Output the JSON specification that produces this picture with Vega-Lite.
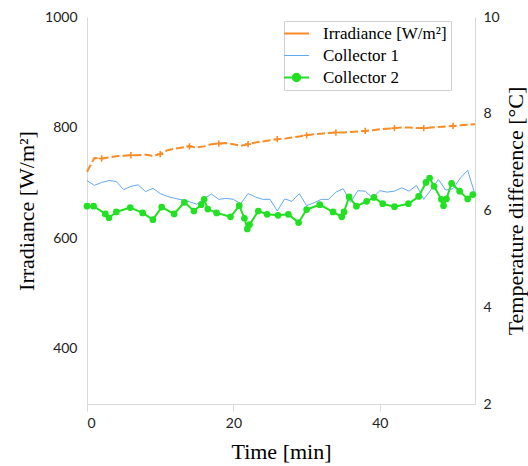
{
  "$schema": "https://vega.github.io/schema/vega-lite/v6.json",
  "width": 388,
  "height": 387,
  "autosize": "none",
  "padding": {"left": 87, "top": 17, "right": 53, "bottom": 62},
  "background": "white",
  "config": {
    "view": {"stroke": null},
    "axis": {
      "grid": false,
      "domainColor": "#d9d9d9",
      "tickColor": "#d9d9d9",
      "labelFont": "Lato",
      "labelFontSize": 14,
      "labelColor": "#222222",
      "titleFont": "Liberation Serif",
      "titleFontSize": 22,
      "titleFontWeight": "normal",
      "titleColor": "#000000"
    }
  },
  "datasets": {
    "irr": [
      {"t":0,"v":720},{"t":1,"v":745},{"t":2,"v":744},{"t":3,"v":746},{"t":4,"v":748},{"t":5,"v":749},
      {"t":6,"v":750},{"t":7,"v":750},{"t":8,"v":751},{"t":9,"v":749},{"t":10,"v":752},{"t":11,"v":759},
      {"t":12,"v":762},{"t":13,"v":764},{"t":14,"v":766},{"t":15,"v":764},{"t":16,"v":766},{"t":17,"v":770},
      {"t":18,"v":771},{"t":19,"v":772},{"t":20,"v":770},{"t":21,"v":767},{"t":22,"v":770},{"t":23,"v":773},
      {"t":24,"v":775},{"t":25,"v":777},{"t":26,"v":779},{"t":27,"v":780},{"t":28,"v":782},{"t":29,"v":784},
      {"t":30,"v":786},{"t":31,"v":788},{"t":32,"v":789},{"t":33,"v":790},{"t":34,"v":791},{"t":35,"v":791},
      {"t":36,"v":792},{"t":37,"v":793},{"t":38,"v":794},{"t":39,"v":795},{"t":40,"v":797},{"t":41,"v":798},
      {"t":42,"v":799},{"t":43,"v":800},{"t":44,"v":800},{"t":45,"v":799},{"t":46,"v":799},{"t":47,"v":800},
      {"t":48,"v":801},{"t":49,"v":802},{"t":50,"v":803},{"t":51,"v":804},{"t":52,"v":805},{"t":53,"v":806}
    ],
    "c1": [
      {"t":0,"v":6.62},{"t":1,"v":6.52},{"t":2,"v":6.58},{"t":3,"v":6.62},{"t":4,"v":6.6},{"t":5,"v":6.43},
      {"t":6,"v":6.5},{"t":7,"v":6.53},{"t":8,"v":6.39},{"t":9,"v":6.46},{"t":10,"v":6.35},{"t":11,"v":6.29},
      {"t":12,"v":6.25},{"t":13,"v":6.22},{"t":14,"v":6.18},{"t":15,"v":6.13},{"t":16,"v":6.25},{"t":17,"v":6.34},
      {"t":18,"v":6.23},{"t":19,"v":6.25},{"t":20,"v":6.23},{"t":21,"v":6.14},{"t":22,"v":6.35},{"t":23,"v":6.28},
      {"t":24,"v":6.23},{"t":25,"v":6.23},{"t":26,"v":5.99},{"t":27,"v":6.24},{"t":28,"v":6.19},{"t":29,"v":6.35},
      {"t":30,"v":6.1},{"t":31,"v":6.16},{"t":32,"v":6.23},{"t":33,"v":6.23},{"t":34,"v":6.38},{"t":35,"v":6.45},
      {"t":36,"v":6.17},{"t":37,"v":6.41},{"t":38,"v":6.4},{"t":39,"v":6.26},{"t":40,"v":6.41},{"t":41,"v":6.38},
      {"t":42,"v":6.4},{"t":43,"v":6.47},{"t":44,"v":6.4},{"t":45,"v":6.52},{"t":46,"v":6.23},{"t":47,"v":6.43},
      {"t":48,"v":6.64},{"t":49,"v":6.42},{"t":50,"v":6.45},{"t":51,"v":6.67},{"t":52,"v":6.83},{"t":53,"v":6.33}
    ],
    "c2": [
      {"t":0,"v":6.09},{"t":0.9,"v":6.09},{"t":2.5,"v":5.93},{"t":3.0,"v":5.85},{"t":4.0,"v":5.97},
      {"t":5.9,"v":6.06},{"t":7.6,"v":5.95},{"t":9.0,"v":5.81},{"t":10.2,"v":6.07},{"t":11.9,"v":5.93},
      {"t":13.3,"v":6.17},{"t":14.6,"v":5.99},{"t":15.6,"v":6.12},{"t":16.0,"v":6.23},{"t":16.5,"v":6.03},
      {"t":17.7,"v":5.95},{"t":19.6,"v":5.87},{"t":20.8,"v":6.1},{"t":21.5,"v":5.84},{"t":21.9,"v":5.62},
      {"t":22.2,"v":5.71},{"t":23.4,"v":5.99},{"t":24.6,"v":5.92},{"t":26.1,"v":5.9},{"t":27.5,"v":5.92},
      {"t":28.9,"v":5.75},{"t":30.0,"v":6.02},{"t":31.8,"v":6.12},{"t":33.6,"v":5.97},{"t":34.8,"v":5.87},
      {"t":35.1,"v":5.97},{"t":35.8,"v":6.28},{"t":36.8,"v":6.09},{"t":38.2,"v":6.19},{"t":39.2,"v":6.27},
      {"t":40.4,"v":6.14},{"t":42.0,"v":6.08},{"t":43.9,"v":6.14},{"t":45.3,"v":6.29},{"t":46.3,"v":6.58},
      {"t":46.8,"v":6.67},{"t":47.4,"v":6.5},{"t":48.4,"v":6.23},{"t":48.7,"v":6.1},{"t":49.1,"v":6.24},
      {"t":49.8,"v":6.56},{"t":50.9,"v":6.4},{"t":52.0,"v":6.24},{"t":52.7,"v":6.33}
    ]
  },
  "encoding": {
    "x": {
      "field": "t",
      "type": "quantitative",
      "scale": {"domain": [0, 53], "nice": false, "zero": false},
      "axis": {"values": [0, 20, 40], "title": "Time [min]", "tickSize": 7, "labelPadding": 5, "titlePadding": 11, "titleFontWeight": "normal"}
    }
  },
  "layer": [
    {
      "data": {"name": "irr"},
      "layer": [
        {
          "mark": {"type": "line", "strokeDash": [8, 3], "strokeWidth": 2},
          "encoding": {
            "y": {
              "field": "v",
              "type": "quantitative",
              "scale": {"domain": [300, 1000], "nice": false, "zero": false},
              "axis": {"values": [400, 600, 800, 1000], "format": "d", "ticks": false, "labelPadding": 10, "title": "Irradiance [W/m²]", "titlePadding": 6}
            },
            "color": {
              "datum": "Irradiance [W/m²]",
              "type": "nominal",
              "scale": {
                "domain": ["Irradiance [W/m²]", "Collector 1", "Collector 2"],
                "range": ["#FA8C28", "#64A8F5", "#22E022"]
              },
              "legend": {
                "title": null,
                "orient": "none",
                "legendX": 197,
                "legendY": 4,
                "strokeColor": "#d0d0d0",
                "fillColor": "white",
                "padding": 4,
                "rowPadding": 4,
                "labelFont": "Liberation Serif",
                "labelFontSize": 17,
                "labelColor": "#000000",
                "labelOffset": 18,
                "symbolType": "stroke",
                "symbolSize": 620,
                "symbolStrokeWidth": 2,
                "encode": {
                  "symbols": {
                    "update": {
                      "shape": {"signal": "datum.label === 'Collector 2' ? 'M-1,0H1M-0.3,0A0.3,0.3,0,1,1,0.3,0A0.3,0.3,0,1,1,-0.3,0Z' : 'stroke'"},
                      "fill": {"signal": "datum.label === 'Collector 2' ? '#22E022' : 'transparent'"},
                      "strokeWidth": {"signal": "datum.label === 'Collector 1' ? 1 : 2"}
                    }
                  }
                }
              }
            }
          }
        },
        {
          "transform": [{"filter": "datum.t % 4 == 2"}],
          "mark": {"type": "point", "shape": "M-1,0H1M0,-1V1", "filled": false, "strokeWidth": 1.6, "size": 40, "color": "#FA8C28", "opacity": 1},
          "encoding": {"y": {"field": "v", "type": "quantitative"}}
        }
      ]
    },
    {
      "layer": [
        {
          "data": {"name": "c1"},
          "mark": {"type": "line", "strokeWidth": 1},
          "encoding": {
            "y": {
              "field": "v",
              "type": "quantitative",
              "scale": {"domain": [2, 10], "nice": false, "zero": false},
              "axis": {"orient": "right", "values": [2, 4, 6, 8, 10], "ticks": false, "labelPadding": 8, "title": "Temperature difference [°C]", "titleAngle": 270, "titleBaseline": "top", "titlePadding": 6}
            },
            "color": {"datum": "Collector 1", "type": "nominal"}
          }
        },
        {
          "data": {"name": "c2"},
          "mark": {"type": "line", "strokeWidth": 2},
          "encoding": {
            "y": {"field": "v", "type": "quantitative"},
            "color": {"datum": "Collector 2", "type": "nominal"}
          }
        },
        {
          "data": {"name": "c2"},
          "mark": {"type": "point", "filled": true, "size": 45, "opacity": 1, "color": "#22E022"},
          "encoding": {"y": {"field": "v", "type": "quantitative"}}
        }
      ]
    }
  ],
  "resolve": {"scale": {"y": "independent"}}
}
